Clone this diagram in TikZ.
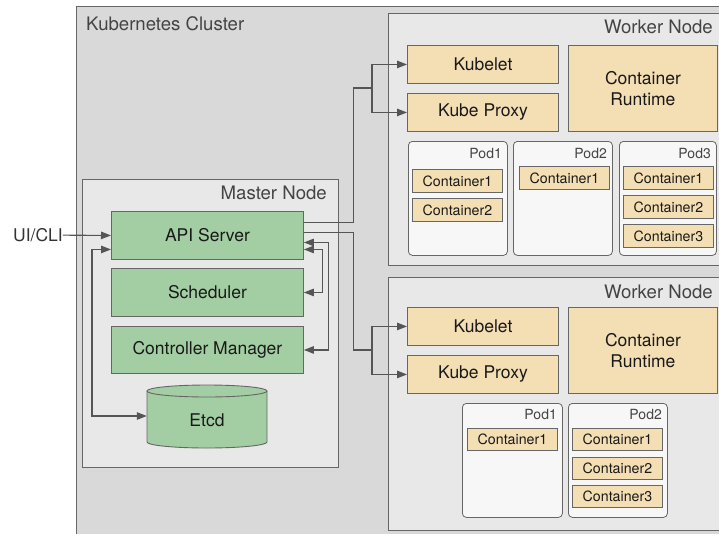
\documentclass[tikz,border=0pt]{standalone}
\usepackage{fontspec}
\setmainfont{TeX Gyre Heros}
\usetikzlibrary{arrows.meta}

\definecolor{clusterbg}{HTML}{D9D9D9}
\definecolor{hostbg}{HTML}{E8E8E8}
\definecolor{podbg}{HTML}{F7F7F7}
\definecolor{mgreen}{HTML}{A3CEA3}
\definecolor{wtan}{HTML}{F4DEB4}
\definecolor{edgegray}{HTML}{666666}
\definecolor{linkgray}{HTML}{555555}
\definecolor{titlegray}{HTML}{444444}

\begin{document}
\begin{tikzpicture}[x=1pt,y=-1pt,
    box/.style={draw=edgegray,line width=0.9pt,inner sep=0pt,anchor=north west},
    cluster/.style={box,fill=clusterbg,line width=1.4pt},
    host/.style={box,fill=hostbg,line width=1.1pt},
    master/.style={box,fill=mgreen,text=black!90,font=\fontsize{17.5}{21}\selectfont},
    worker/.style={box,fill=wtan,text=black!90,align=center,font=\fontsize{17.5}{21}\selectfont},
    pod/.style={box,fill=podbg,rounded corners=4pt,line width=0.8pt},
    ctr/.style={box,fill=wtan,text=black!90,minimum width=90,minimum height=23,font=\fontsize{14.2}{16}\selectfont},
    title/.style={text=titlegray,inner sep=0pt,font=\fontsize{18.6}{21}\selectfont},
    podname/.style={text=titlegray,inner sep=0pt,anchor=east,font=\fontsize{14}{16}\selectfont},
    link/.style={draw=linkgray,line width=1.1pt},
    arr/.style={link,-{Triangle[length=10pt,width=7.5pt]}},
    biarr/.style={link,{Triangle[length=10pt,width=7.5pt]}-{Triangle[length=10pt,width=7.5pt]}}]
    \clip (0,0) rectangle (719,533);

    % cluster and hosts
    \node[cluster,minimum width=700,minimum height=600] (cluster) at (76,6) {};
    \node[host,minimum width=400,minimum height=252] (worker1) at (388,13) {};
    \node[host,minimum width=400,minimum height=253] (worker2) at (388,277) {};
    \node[host,minimum width=256,minimum height=288] (masternode) at (82,179) {};

    \node[title,anchor=west] (clustername) at (86,24) {Kubernetes Cluster};
    \node[title,anchor=east] (worker1name) at (713,27) {Worker Node};
    \node[title,anchor=east] (worker2name) at (713,292) {Worker Node};
    \node[title,anchor=east] (mastername) at (327,193) {Master Node};

    % master components
    \node[master,minimum width=192,minimum height=48] (api) at (111,211) {API Server};
    \node[master,minimum width=192,minimum height=48] (sched) at (111,268) {Scheduler};
    \node[master,minimum width=192,minimum height=47] (ctrl) at (111,326) {Controller Manager};

    \fill[mgreen] (147,391) -- (147,442) arc (180:0:60 and 6) -- (267,391) arc (0:-180:60 and 6) -- cycle;
    \draw[edgegray,line width=0.9pt] (147,391) -- (147,442) arc (180:0:60 and 6) -- (267,391);
    \draw[edgegray,line width=0.9pt] (207,391) ellipse (60 and 6);
    \node[inner sep=0pt,minimum width=120,minimum height=40,text=black!90,font=\fontsize{17.5}{21}\selectfont] (etcd) at (207,420) {Etcd};

    \node[inner sep=0pt,text=black!80,font=\fontsize{17.5}{21}\selectfont] (ui) at (38,235) {UI/CLI};

    % first worker
    \node[worker,minimum width=151,minimum height=38] (kubelet1) at (407,45) {Kubelet};
    \node[worker,minimum width=151,minimum height=38] (proxy1) at (407,93) {Kube Proxy};
    \node[worker,minimum width=149,minimum height=86] (runtime1) at (568,45) {Container\\Runtime};

    \node[pod,minimum width=99,minimum height=114] (pod1a) at (408,141) {};
    \node[pod,minimum width=99,minimum height=114] (pod2a) at (513,141) {};
    \node[pod,minimum width=97,minimum height=114] (pod3a) at (619,141) {};
    \node[podname] at (502,153) {Pod1};
    \node[podname] at (607,153) {Pod2};
    \node[podname] at (711,153) {Pod3};
    \node[ctr] (c1a1) at (412,169) {Container1};
    \node[ctr] (c1a2) at (412,198) {Container2};
    \node[ctr] (c2a1) at (519,166) {Container1};
    \node[ctr] (c3a1) at (623,166) {Container1};
    \node[ctr] (c3a2) at (623,195) {Container2};
    \node[ctr] (c3a3) at (623,224) {Container3};

    % second worker
    \node[worker,minimum width=151,minimum height=38] (kubelet2) at (407,307) {Kubelet};
    \node[worker,minimum width=151,minimum height=38] (proxy2) at (407,355) {Kube Proxy};
    \node[worker,minimum width=149,minimum height=86] (runtime2) at (568,307) {Container\\Runtime};

    \node[pod,minimum width=100,minimum height=114] (pod1b) at (462,403) {};
    \node[pod,minimum width=99,minimum height=114] (pod2b) at (568,403) {};
    \node[podname] at (557,414) {Pod1};
    \node[podname] at (662,414) {Pod2};
    \node[ctr,minimum height=22] (c1b1) at (467,428) {Container1};
    \node[ctr,minimum height=22] (c2b1) at (572,428) {Container1};
    \node[ctr,minimum height=22] (c2b2) at (572,457) {Container2};
    \node[ctr,minimum height=22] (c2b3) at (572,485) {Container3};

    % connectors
    \draw[arr] (ui) -- (api.west);
    \draw[biarr] ([yshift=-14pt]api.west) -- ++(-19,0) |- ([yshift=4pt]etcd.west);
    \draw[biarr] ([yshift=-7pt]api.east) -- ++(25,0) |- (ctrl.east);
    \draw[biarr] ([yshift=-14pt]api.east) -- ++(19,0) |- (sched.east);

    \coordinate (split1) at (372,88);
    \coordinate (split2) at (372,350);
    \draw[link] ([yshift=13pt]api.east) -- ++(50,0) |- (split1);
    \draw[arr] (split1) |- (kubelet1.west);
    \draw[arr] (split1) |- (proxy1.west);
    \draw[link] ([yshift=3pt]api.east) -- ++(50,0) |- (split2);
    \draw[arr] (split2) |- (kubelet2.west);
    \draw[arr] (split2) |- (proxy2.west);
\end{tikzpicture}
\end{document}
